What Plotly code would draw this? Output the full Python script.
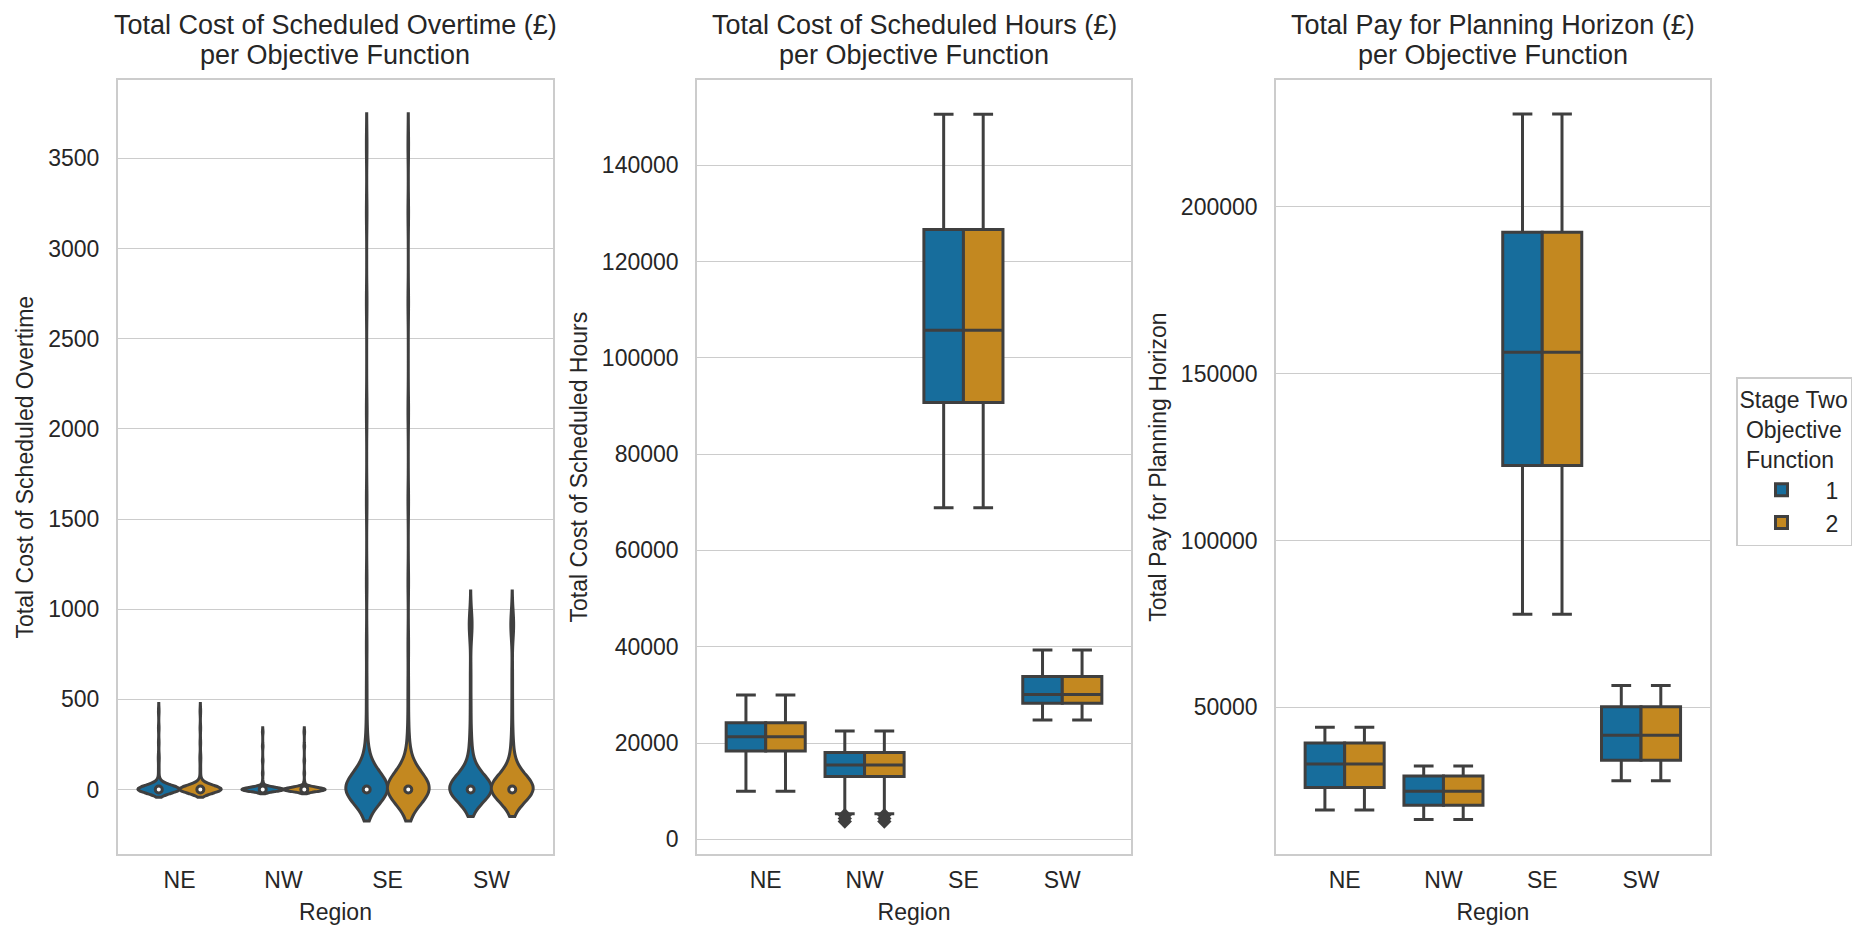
import numpy as np
import plotly.graph_objects as go

# ---------------- data ----------------
regions = ["NE", "NW", "SE", "SW"]
objectives = ["1", "2"]

# Panel 1: samples of total cost of scheduled overtime (identical for both objective functions)
overtime_ne = [0, 0, 0, 0, 0, 0, 0, 0, 0, 0, 0, 0, 0, 0, 0, 0, 0, 0, 0, 0,
               0, 0, 0, 0, 0, 0, 0, 0, 0, 0, 0, 0, 0, 0, 0, 0, 0, 0, 0, 0,
               0, 0, 0, 0, 0, 0, 0, 0, 0, 0, 0, 0, 0, 0, 0, 0, 0, 0, 0, 0,
               4, 6, 8, 10, 12, 15, 18, 22, 25, 30, 35, 45, 60, 110, 160, 190, 260, 340, 434]
overtime_nw = [0, 0, 0, 0, 0, 0, 0, 0, 0, 0, 0, 0, 0, 0, 0, 0, 0, 0, 0, 0,
               0, 0, 0, 0, 0, 0, 0, 0, 0, 0, 0, 0, 0, 0, 0, 0, 0, 0, 0, 0,
               0, 0, 0, 0, 0, 0, 0, 0, 0, 0, 0, 0, 0, 0, 0, 0, 0, 0, 0, 0,
               3, 5, 6, 8, 10, 12, 15, 22, 40, 90, 160, 240, 319]
overtime_se = [0, 0, 0, 0, 0, 0, 0, 0, 0, 0, 0, 0, 0, 0, 0, 0, 0, 0, 0, 0,
               0, 0, 0, 0, 0, 0, 0, 0, 0, 0, 0, 0, 0, 0, 0, 0, 0, 0, 0, 0,
               0, 0, 0, 0, 0, 0, 0, 0, 0, 0, 0, 0, 0, 0, 0, 0, 0, 0, 0, 0,
               8, 15, 20, 25, 30, 40, 50, 55, 65, 75, 90, 100, 120, 140, 170, 190, 230, 260,
               380, 560, 800, 1150, 1600, 2100, 2700, 3200, 3573]
overtime_sw = [0, 0, 0, 0, 0, 0, 0, 0, 0, 0, 0, 0, 0, 0, 0, 0, 0, 0, 0, 0,
               0, 0, 0, 0, 0, 0, 0, 0, 0, 0, 0, 0, 0, 0, 0, 0, 0, 0, 0, 0,
               0, 0, 0, 0, 0, 0, 0, 0, 0, 0, 0, 0, 0, 0, 0, 0, 0, 0, 0, 0,
               8, 15, 20, 25, 30, 40, 50, 55, 65, 75, 90, 100, 120, 140, 170, 190, 230, 260,
               350, 480, 640, 880, 895, 915, 930, 951]
overtime_bandwidth = [21.5, 11.5, 87, 75]

# Panel 2: total cost of scheduled hours (box statistics per region)
hours_q1 = [18360, 13040, 90710, 28240]
hours_median = [21290, 15430, 105700, 30090]
hours_q3 = [24230, 18030, 126670, 33790]
hours_lower = [9990, 5320, 68880, 24770]
hours_upper = [29980, 22490, 150570, 39330]
hours_nw_outliers = [5000, 4300, 3700]

# Panel 3: total pay for planning horizon (box statistics per region)
pay_q1 = [26000, 20660, 122480, 34150]
pay_median = [33060, 24900, 156370, 41690]
pay_q3 = [39330, 29450, 192300, 50160]
pay_lower = [19250, 16430, 77930, 28040]
pay_upper = [44040, 32430, 227750, 56590]

# ---------------- style ----------------
colors = ["#176d9c", "#c38820"]
edge = "#3f3f3f"
grid = "#cccccc"
txt = "#262626"
FONT = "Liberation Sans, Arial, sans-serif"
W, H = 1870, 925
offsets = [-0.2, 0.2]

dom1 = [117.7 / W, 553.3 / W]
dom2 = [697.0 / W, 1131.0 / W]
dom3 = [1276.0 / W, 1709.7 / W]
ydom = [1 - 854.3 / H, 1 - 80.0 / H]

fig = go.Figure()

# ---------- panel 1: violins ----------
overtime_samples = [overtime_ne, overtime_nw, overtime_se, overtime_sw]
for ri, vals in enumerate(overtime_samples):
    for oi, obj in enumerate(objectives):
        fig.add_trace(go.Violin(
            x=[ri + offsets[oi]] * len(vals), y=vals,
            xaxis="x", yaxis="y",
            width=0.4, scalemode="width", spanmode="soft",
            bandwidth=overtime_bandwidth[ri],
            points=False, fillcolor=colors[oi],
            line=dict(color=edge, width=3), opacity=1,
            name=obj, showlegend=False, hoverinfo="skip",
        ))
for oi, obj in enumerate(objectives):
    fig.add_trace(go.Scatter(
        x=[ri + offsets[oi] for ri in range(len(regions))],
        y=[float(np.median(v)) for v in overtime_samples],
        xaxis="x", yaxis="y", mode="markers",
        marker=dict(color="white", size=7, line=dict(color=edge, width=3)),
        showlegend=False, hoverinfo="skip",
    ))

# ---------- panels 2 & 3: boxes ----------
box_panels = [
    ("x2", "y2", hours_q1, hours_median, hours_q3, hours_lower, hours_upper, True),
    ("x3", "y3", pay_q1, pay_median, pay_q3, pay_lower, pay_upper, False),
]
for xa, ya, q1, med, q3, lo, up, legend in box_panels:
    for oi, obj in enumerate(objectives):
        fig.add_trace(go.Box(
            x=[ri + offsets[oi] for ri in range(len(regions))],
            q1=q1, median=med, q3=q3, lowerfence=lo, upperfence=up,
            xaxis=xa, yaxis=ya, width=0.4, whiskerwidth=0.5,
            fillcolor=colors[oi], line=dict(color=edge, width=3),
            boxpoints=False, name=obj, legendgroup=obj, showlegend=legend,
            hoverinfo="skip",
        ))

nw = regions.index("NW")
for oi, obj in enumerate(objectives):
    fig.add_trace(go.Scatter(
        x=[nw + offsets[oi]] * len(hours_nw_outliers), y=hours_nw_outliers,
        xaxis="x2", yaxis="y2", mode="markers",
        marker=dict(symbol="diamond", size=11, color=edge, line=dict(width=0)),
        showlegend=False, hoverinfo="skip",
    ))

# ---------- axes ----------
def xaxis(domain, anchor, rng):
    return dict(
        domain=domain, anchor=anchor, range=rng,
        tickmode="array", tickvals=list(range(len(regions))), ticktext=regions,
        showgrid=False, zeroline=False, showline=True, mirror=True,
        linecolor=grid, linewidth=1.6, ticks="",
        tickfont=dict(size=23, color=txt, family=FONT), ticklabelstandoff=4,
        title=dict(text="Region", font=dict(size=23, color=txt, family=FONT), standoff=13),
    )

def yaxis(domain, anchor, rng, dtick, title):
    return dict(
        domain=domain, anchor=anchor, range=rng,
        tick0=0, dtick=dtick, tickformat="d",
        showgrid=True, gridcolor=grid, gridwidth=1.3,
        zeroline=False, showline=True, mirror=True,
        linecolor=grid, linewidth=1.6, ticks="",
        tickfont=dict(size=23, color=txt, family=FONT), ticklabelstandoff=12,
        title=dict(text=title, font=dict(size=23, color=txt, family=FONT), standoff=8),
    )

titles = [
    ("Total Cost of Scheduled Overtime (£)", dom1),
    ("Total Cost of Scheduled Hours (£)", dom2),
    ("Total Pay for Planning Horizon (£)", dom3),
]
annotations = []
for t, d in titles:
    cx = (d[0] + d[1]) / 2
    annotations.append(dict(text=t, x=cx, y=1 - 25 / H, xref="paper", yref="paper",
                            xanchor="center", yanchor="middle", showarrow=False,
                            font=dict(size=27, color=txt, family=FONT)))
    annotations.append(dict(text="per Objective Function", x=cx, y=1 - 55 / H,
                            xref="paper", yref="paper", xanchor="center", yanchor="middle",
                            showarrow=False, font=dict(size=27, color=txt, family=FONT)))

fig.update_layout(
    width=W, height=H,
    margin=dict(l=0, r=0, t=0, b=0),
    paper_bgcolor="white", plot_bgcolor="white",
    font=dict(family=FONT, color=txt, size=23),
    violinmode="overlay", boxmode="overlay",
    hovermode=False,
    xaxis=xaxis(dom1, "y", [-0.595, 3.595]),
    yaxis=yaxis(ydom, "x", [-359, 3934], 500, "Total Cost of Scheduled Overtime"),
    xaxis2=xaxis(dom2, "y2", [-0.695, 3.695]),
    yaxis2=yaxis(ydom, "x2", [-3115, 157700], 20000, "Total Cost of Scheduled Hours"),
    xaxis3=xaxis(dom3, "y3", [-0.695, 3.695]),
    yaxis3=yaxis(ydom, "x3", [6000, 237900], 50000, "Total Pay for Planning Horizon"),
    annotations=annotations,
    showlegend=True,
    legend=dict(
        x=1736 / W, y=1 - 377 / H, xanchor="left", yanchor="top",
        bgcolor="white", bordercolor=grid, borderwidth=1.5,
        font=dict(size=23, color=txt, family=FONT),
        itemwidth=78,
        title=dict(text="Stage Two<br>\u00a0Objective<br>\u00a0Function", side="top",
                   font=dict(size=23, color=txt, family=FONT)),
        traceorder="normal",
    ),
)

fig.write_html("out.html")
